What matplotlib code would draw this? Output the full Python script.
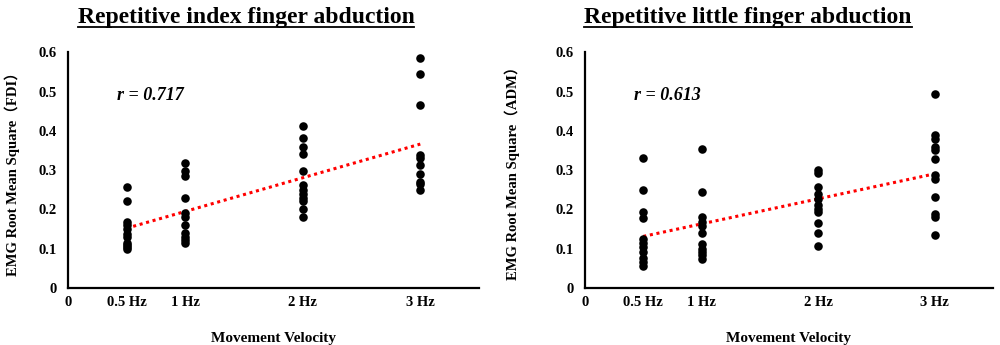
import numpy as np
import matplotlib
matplotlib.use("Agg")
import matplotlib.pyplot as plt
from matplotlib.lines import Line2D

plt.rcParams['font.family'] = ['Liberation Serif', 'Noto Sans CJK SC']
plt.rcParams['font.weight'] = 'bold'

# frequencies (Hz) and tick labels
freqs = [0.5, 1, 2, 3]
tick_pos = [0, 0.5, 1, 2, 3]
tick_labels = ['0', '0.5 Hz', '1 Hz', '2 Hz', '3 Hz']

# FDI (index finger) RMS values per frequency
fdi_05 = [0.257, 0.220, 0.168, 0.160, 0.150, 0.137, 0.130, 0.115, 0.109, 0.103, 0.098]
fdi_1 = [0.318, 0.298, 0.285, 0.229, 0.190, 0.181, 0.161, 0.140, 0.130, 0.121, 0.113]
fdi_2 = [0.412, 0.381, 0.358, 0.342, 0.298, 0.263, 0.249, 0.239, 0.230, 0.222, 0.200, 0.181]
fdi_3 = [0.585, 0.545, 0.467, 0.338, 0.332, 0.313, 0.291, 0.270, 0.264, 0.248]

# ADM (little finger) RMS values per frequency
adm_05 = [0.332, 0.249, 0.194, 0.177, 0.123, 0.113, 0.103, 0.092, 0.075, 0.066, 0.055]
adm_1 = [0.353, 0.245, 0.180, 0.168, 0.157, 0.139, 0.111, 0.100, 0.090, 0.083, 0.073]
adm_2 = [0.300, 0.293, 0.256, 0.238, 0.225, 0.212, 0.200, 0.194, 0.166, 0.140, 0.106]
adm_3 = [0.495, 0.389, 0.380, 0.360, 0.352, 0.327, 0.287, 0.278, 0.232, 0.188, 0.181, 0.134]

panels = [
    ("Repetitive index finger abduction", "EMG Root Mean Square（FDI）", "r = 0.717",
     [fdi_05, fdi_1, fdi_2, fdi_3]),
    ("Repetitive little finger abduction", "EMG Root Mean Square（ADM）", "r = 0.613",
     [adm_05, adm_1, adm_2, adm_3]),
]

fig = plt.figure(figsize=(10, 3.45), dpi=100)
axes = [fig.add_axes([0.068, 0.166, 0.411, 0.682]),
        fig.add_axes([0.585, 0.166, 0.408, 0.682])]
title_x = [0.246, 0.748]
ylabel_x = [-0.118, -0.160]

titles = []
for i, (ax, (title, ylab, rtxt, groups)) in enumerate(zip(axes, panels)):
    xs = np.concatenate([[f] * len(g) for f, g in zip(freqs, groups)])
    ys = np.concatenate(groups)
    ax.scatter(xs, ys, s=38, color='black', zorder=3, linewidths=0)

    # linear trendline over data range
    k, b = np.polyfit(xs, ys, 1)
    tx = np.array([min(freqs), max(freqs)])
    ax.plot(tx, k * tx + b, color='red', linestyle=(0, (1, 1.2)), linewidth=2.2, zorder=2)

    ax.set_xlim(0, 3.5)
    ax.set_ylim(0, 0.6)
    ax.set_xticks(tick_pos)
    ax.set_xticklabels(tick_labels)
    ax.set_yticks(np.arange(0, 0.61, 0.1))
    ax.set_yticklabels(['0', '0.1', '0.2', '0.3', '0.4', '0.5', '0.6'])
    ax.tick_params(axis='both', length=0, labelsize=10.5)
    ax.tick_params(axis='y', pad=8)
    ax.tick_params(axis='x', pad=6)
    for s in ['top', 'right']:
        ax.spines[s].set_visible(False)
    for s in ['left', 'bottom']:
        ax.spines[s].set_linewidth(1.6)

    ax.set_xlabel("Movement Velocity", fontsize=11, fontweight='bold')
    ax.xaxis.set_label_coords(0.5, -0.19)
    ax.set_ylabel(ylab, fontsize=10.5, fontweight='bold')
    ax.yaxis.set_label_coords(ylabel_x[i], 0.5)

    ax.text(0.42, 0.49, rtxt, fontsize=13, fontweight='bold', style='italic',
            ha='left', va='center')

    t = fig.text(title_x[i], 0.948, title, fontsize=17, fontweight='bold',
                 ha='center', va='center')
    titles.append(t)

# underline the titles
fig.canvas.draw()
r = fig.canvas.get_renderer()
for t in titles:
    bb = t.get_window_extent(renderer=r).transformed(fig.transFigure.inverted())
    yl = bb.y0 + 0.004
    fig.add_artist(Line2D([bb.x0, bb.x1], [yl, yl], color='black', linewidth=1.3,
                          transform=fig.transFigure))

fig.savefig("out.png", dpi=100)
